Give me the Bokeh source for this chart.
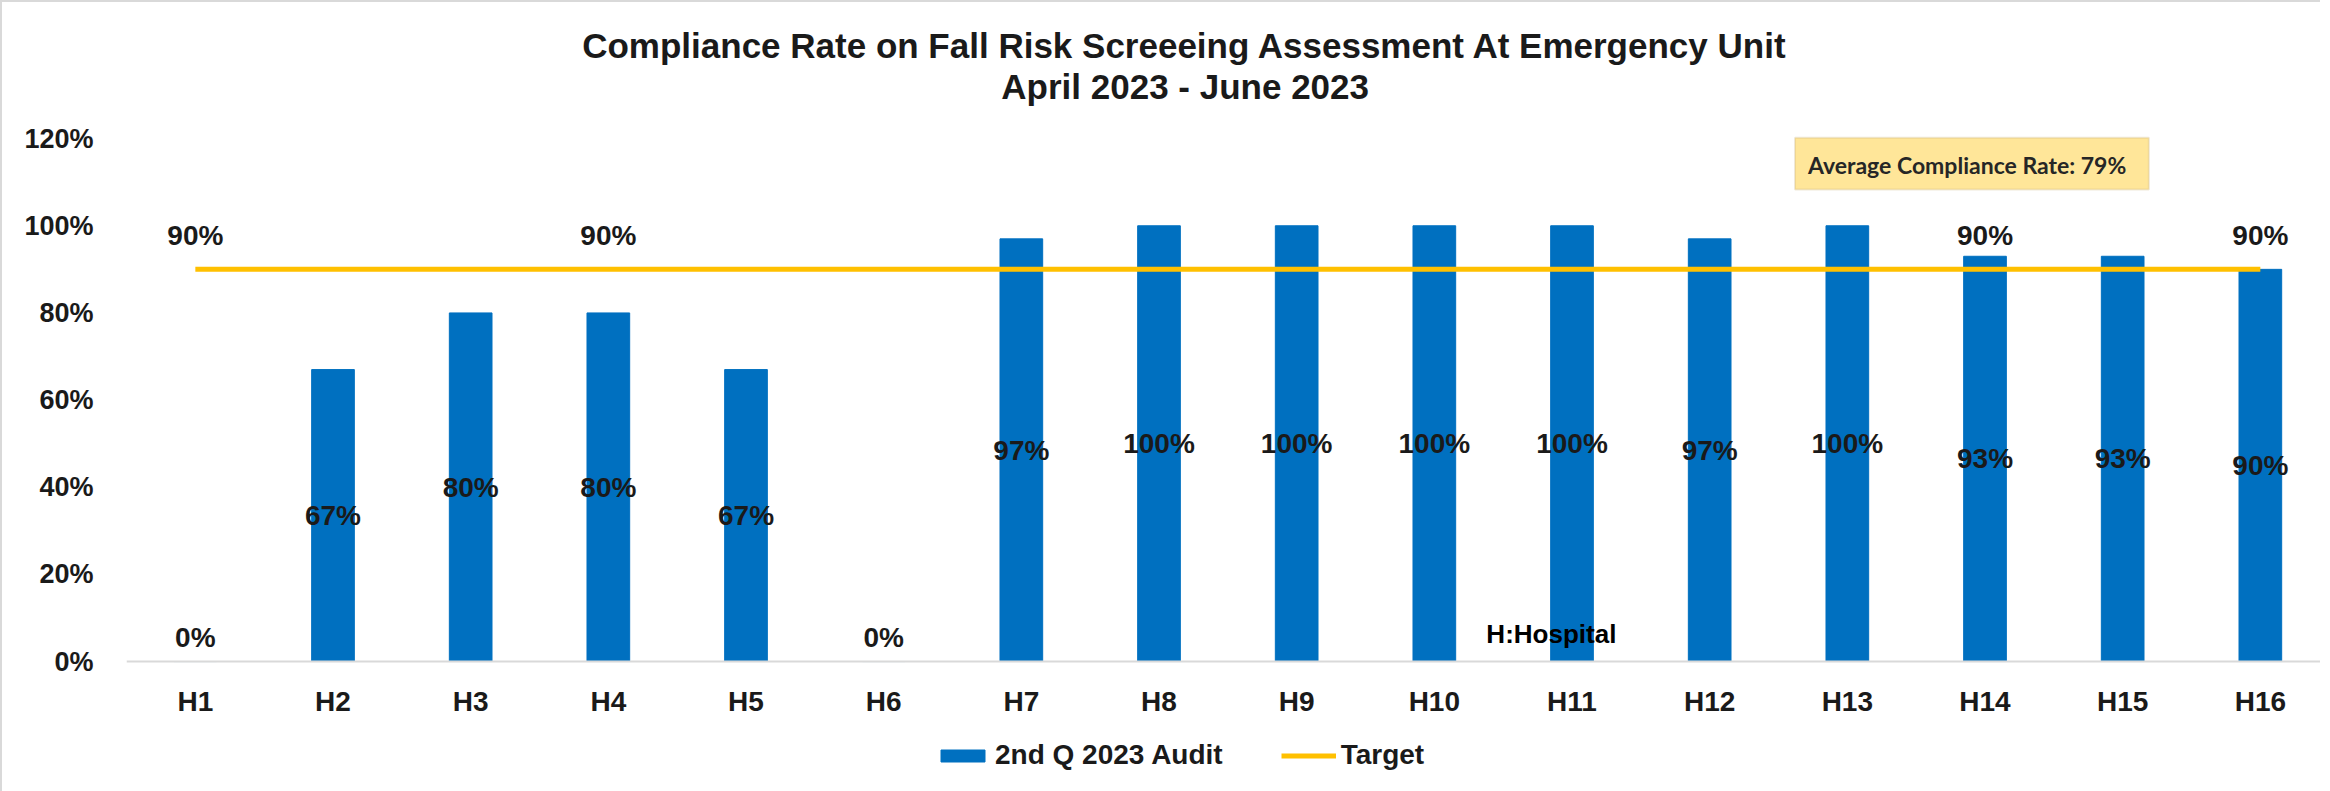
from bokeh.plotting import figure
from bokeh.models import (Range1d, FixedTicker, PrintfTickFormatter, Label,
                          BoxAnnotation, Legend, LegendItem, ColumnDataSource)
from bokeh.core.properties import value
from bokeh.embed import file_html
from bokeh.resources import INLINE

# ---------------- data ----------------
categories = ["H1", "H2", "H3", "H4", "H5", "H6", "H7", "H8",
              "H9", "H10", "H11", "H12", "H13", "H14", "H15", "H16"]
audit = [0, 67, 80, 80, 67, 0, 97, 100, 100, 100, 100, 97, 100, 93, 93, 90]
target = [90, 90, 90, 90, 90, 90, 90, 90, 90, 90, 90, 90, 90, 90, 90, 90]
target_labelled = ["H1", "H4", "H14", "H16"]
y_ticks = [0, 20, 40, 60, 80, 100, 120]
title_lines = ["Compliance Rate on Fall Risk Screeeing Assessment At Emergency Unit",
               "April 2023 - June 2023"]
series_names = ["2nd Q 2023 Audit", "Target"]
average_note = "Average Compliance Rate: 79%"
footnote = "H:Hospital"

FONT_S = "Liberation Sans"
FONT = value(FONT_S)
BLUE = "#0070C0"
GOLD = "#FFC000"
TXT = "#1a1a1a"

idx = list(range(len(categories)))

p = figure(frame_width=2194, frame_height=789,
           x_range=Range1d(-0.5, 15.437), y_range=Range1d(-29.83, 151.24),
           output_backend="svg", toolbar_location=None,
           min_border_left=124, min_border_right=0,
           min_border_top=0, min_border_bottom=0)
p.styles = {"border-left": "2px solid #D9D9D9", "border-top": "2px solid #D9D9D9"}
p.xgrid.visible = False
p.ygrid.visible = False
p.outline_line_color = None
p.background_fill_color = "white"
p.border_fill_color = "white"

# axes
xa = p.xaxis[0]
xa.fixed_location = 0
xa.ticker = FixedTicker(ticks=idx)
xa.major_label_overrides = {i: c for i, c in zip(idx, categories)}
xa.major_label_text_font = FONT_S
xa.major_label_text_font_style = "bold"
xa.major_label_text_font_size = "28px"
xa.major_label_text_color = TXT
xa.major_label_standoff = 18
xa.axis_line_color = "#D9D9D9"
xa.axis_line_width = 2
xa.major_tick_line_color = None
xa.minor_tick_line_color = None

ya = p.yaxis[0]
ya.ticker = FixedTicker(ticks=y_ticks)
ya.formatter = PrintfTickFormatter(format="%d%%")
ya.major_label_text_font = FONT_S
ya.major_label_text_font_style = "bold"
ya.major_label_text_font_size = "27px"
ya.major_label_text_color = TXT
ya.major_label_standoff = 27
ya.axis_line_color = None
ya.major_tick_line_color = None
ya.minor_tick_line_color = None

# bars and target line
bars = p.vbar(x=idx, top=audit, width=0.31, color=BLUE)
tline = p.line(idx, target, color=GOLD, line_width=5)

# data labels on bars (centred; zero values just above the axis)
bar_src = ColumnDataSource(dict(
    x=idx,
    y=[v / 2 if v > 0 else 5.6 for v in audit],
    t=[f"{v}%" for v in audit]))
p.text(x="x", y="y", text="t", source=bar_src, text_align="center",
       text_baseline="middle", text_font=FONT, text_font_style="bold",
       text_font_size="28px", text_color=TXT)

# target labels
t_idx = [categories.index(c) for c in target_labelled]
tgt_src = ColumnDataSource(dict(
    x=t_idx,
    y=[target[i] + 7.7 for i in t_idx],
    t=[f"{target[i]}%" for i in t_idx]))
p.text(x="x", y="y", text="t", source=tgt_src, text_align="center",
       text_baseline="middle", text_font=FONT, text_font_style="bold",
       text_font_size="28px", text_color=TXT)

# title
p.add_layout(Label(x=7.19, y=141.4, text=title_lines[0], text_align="center",
                   text_baseline="middle", text_font=FONT_S, text_font_style="bold",
                   text_font_size="35px", text_color=TXT))
p.add_layout(Label(x=7.19, y=132.0, text=title_lines[1], text_align="center",
                   text_baseline="middle", text_font=FONT_S, text_font_style="bold",
                   text_font_size="35px", text_color=TXT))

# average compliance note
p.add_layout(BoxAnnotation(left=11.62, right=14.19, bottom=108.3, top=120.2,
                           fill_color="#FFE699", fill_alpha=1.0,
                           line_color="#C9B47E", line_width=2))
p.add_layout(Label(x=12.87, y=114.0, text=average_note, text_align="center",
                   text_baseline="middle", text_font="Lato",
                   text_font_style="bold", text_font_size="23px",
                   text_color="#262626"))

# footnote
p.add_layout(Label(x=9.85, y=6.3, text=footnote, text_align="center",
                   text_baseline="middle", text_font=FONT_S, text_font_style="bold",
                   text_font_size="26px", text_color="#000000"))

# legend (inside the frame, below the category axis)
legend = Legend(items=[LegendItem(label=series_names[0], renderers=[bars]),
                       LegendItem(label=series_names[1], renderers=[tline])],
                orientation="horizontal", location=(809, 20),
                label_text_font=FONT_S, label_text_font_style="bold",
                label_text_font_size="28px", label_text_color=TXT,
                glyph_width=55, glyph_height=15, label_standoff=5,
                spacing=58, border_line_color=None, background_fill_alpha=0,
                padding=4, margin=0)
p.add_layout(legend)

open("out.html", "w").write(file_html(p, INLINE))
